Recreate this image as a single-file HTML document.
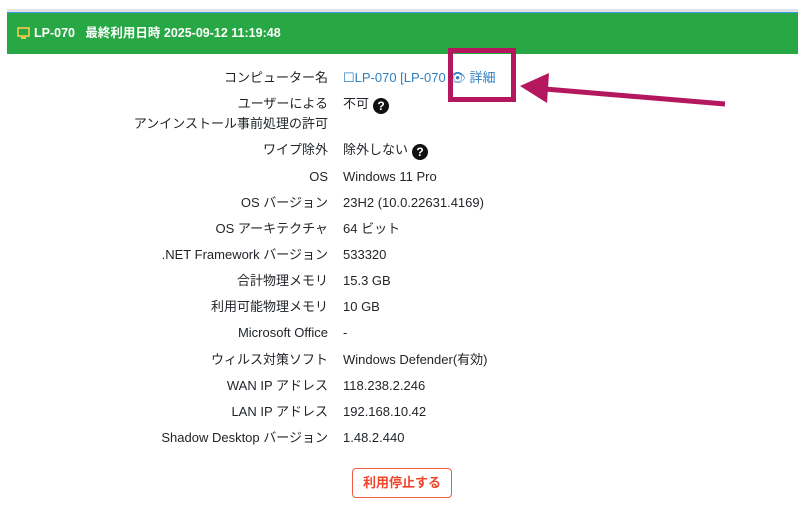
<!DOCTYPE html>
<html><head><meta charset="utf-8"><style>
body{margin:0;width:804px;height:513px;background:#fff;font-family:"Liberation Sans","Noto Sans CJK JP",sans-serif;font-size:13px;color:#212529;position:relative;overflow:hidden}
.top{position:absolute;left:7px;top:9px;width:791px;height:3px;background:#dfe3e8;border-bottom:1px solid #3d9be9}
.hdr{position:absolute;left:7px;top:13px;width:791px;height:41px;background:#28a745;color:#fff;font-weight:bold;font-size:12.5px;line-height:41px}
.hdr span{position:absolute;left:27px}
.l,.v{position:absolute;white-space:nowrap;line-height:16px}
.l{right:476px;text-align:right}
.v{left:343px}
a{color:#2f7fc1}
.q{display:inline-block;width:16px;height:16px;border-radius:50%;background:#111;color:#fff;font-size:12px;font-weight:bold;text-align:center;line-height:16px;vertical-align:-2px;margin-left:4px}
.btn{position:absolute;left:352px;top:468px;width:98px;height:28px;border:1.5px solid #f25c44;border-radius:4px;color:#f0452a;font-weight:bold;text-align:center;line-height:28px}
.box{position:absolute;left:448px;top:48px;width:58px;height:44px;border:5px solid #b5175f}
</style></head><body>
<div class="top"></div>
<div class="hdr"><svg style="position:absolute;left:10px;top:14px" width="13" height="13" viewBox="0 0 13 13"><rect x="1" y="1" width="11" height="8" fill="none" stroke="#f2c94c" stroke-width="1.6"/><rect x="4" y="10" width="5" height="2" fill="#f2c94c"/></svg><span>LP-070&nbsp;&nbsp;&nbsp;最終利用日時 2025-09-12 11:19:48</span></div>
<div class="l" style="top:70px">コンピューター名</div><div class="v" style="top:70px"><a>☐LP-070 [LP-070</a>&nbsp;<a>👁 詳細</a></div>
<div class="l" style="top:94px;line-height:20px">ユーザーによる<br>アンインストール事前処理の許可</div><div class="v" style="top:96px">不可<span class="q">?</span></div>
<div class="l" style="top:142px">ワイプ除外</div><div class="v" style="top:142px">除外しない<span class="q">?</span></div>
<div class="l" style="top:169px">OS</div><div class="v" style="top:169px">Windows 11 Pro</div>
<div class="l" style="top:195px">OS バージョン</div><div class="v" style="top:195px">23H2 (10.0.22631.4169)</div>
<div class="l" style="top:221px">OS アーキテクチャ</div><div class="v" style="top:221px">64 ビット</div>
<div class="l" style="top:247px">.NET Framework バージョン</div><div class="v" style="top:247px">533320</div>
<div class="l" style="top:273px">合計物理メモリ</div><div class="v" style="top:273px">15.3 GB</div>
<div class="l" style="top:299px">利用可能物理メモリ</div><div class="v" style="top:299px">10 GB</div>
<div class="l" style="top:325px">Microsoft Office</div><div class="v" style="top:325px">-</div>
<div class="l" style="top:352px">ウィルス対策ソフト</div><div class="v" style="top:352px">Windows Defender(有効)</div>
<div class="l" style="top:378px">WAN IP アドレス</div><div class="v" style="top:378px">118.238.2.246</div>
<div class="l" style="top:404px">LAN IP アドレス</div><div class="v" style="top:404px">192.168.10.42</div>
<div class="l" style="top:430px">Shadow Desktop バージョン</div><div class="v" style="top:430px">1.48.2.440</div>
<div class="btn">利用停止する</div>
<div class="box"></div>
<svg style="position:absolute;left:0;top:0" width="804" height="513"><line x1="725" y1="104" x2="545" y2="89" stroke="#b5175f" stroke-width="5"/><polygon points="520,86 549,73 547,103" fill="#b5175f"/></svg>
</body></html>
